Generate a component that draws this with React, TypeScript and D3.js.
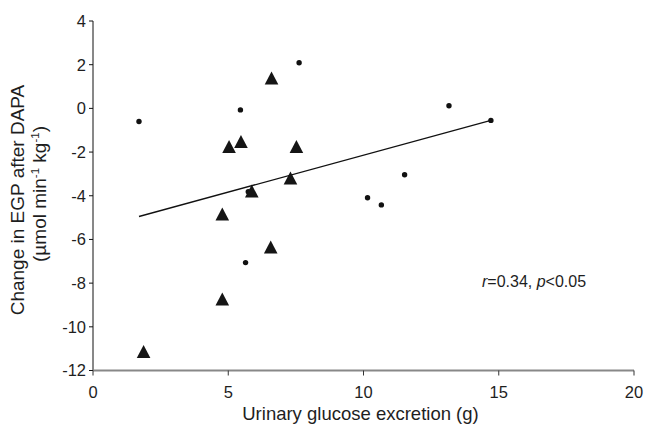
import React from "react";
import * as d3 from "d3";

const xTicks = [0, 5, 10, 15, 20];
const yTicks = [4, 2, 0, -2, -4, -6, -8, -10, -12];

const dotX = [1.7, 5.45, 7.62, 5.74, 5.64, 10.15, 10.66, 11.52, 13.16, 14.71];
const dotY = [-0.6, -0.07, 2.09, -3.82, -7.06, -4.09, -4.42, -3.04, 0.12, -0.55];

const triX = [6.6, 5.03, 5.47, 7.52, 7.3, 5.87, 4.78, 6.57, 4.78, 1.87];
const triY = [1.38, -1.76, -1.53, -1.76, -3.2, -3.8, -4.85, -6.36, -8.74, -11.14];

const fitX = [1.7, 14.71];
const fitY = [-4.95, -0.55];

const W = 646;
const H = 430;
const FONT = "Liberation Sans, Arial, sans-serif";
const TXT = "#1e1e1e";

export default function App() {
  const x = d3.scaleLinear().domain([0, 20]).range([93, 634]);
  const y = d3.scaleLinear().domain([-12, 4]).range([370.5, 21]);
  const line = d3
    .line<number>()
    .x((d) => x(fitX[d]))
    .y((d) => y(fitY[d]));
  const tri = "M0,-6.8L6.8,6.2L-6.8,6.2Z";

  return (
    <svg
      width={W}
      height={H}
      style={{ position: "absolute", left: 0, top: 0, background: "#fff" }}
      fontFamily={FONT}
    >
      {/* y axis */}
      <line x1={x(0)} x2={x(0)} y1={y(4)} y2={y(-12)} stroke="#111" strokeWidth={1} />
      {yTicks.map((t) => (
        <g key={"y" + t}>
          <line x1={x(0) - 4} x2={x(0)} y1={y(t)} y2={y(t)} stroke="#111" />
          <text
            x={x(0) - 7}
            y={y(t)}
            dy="0.36em"
            textAnchor="end"
            fontSize={16.5}
            fill={TXT}
          >
            {t}
          </text>
        </g>
      ))}
      {/* x axis */}
      <line x1={x(0)} x2={x(20)} y1={y(-12)} y2={y(-12)} stroke="#888" strokeWidth={2} />
      {xTicks.map((t) => (
        <g key={"x" + t}>
          <line x1={x(t)} x2={x(t)} y1={y(-12)} y2={y(-12) + 5} stroke="#333" />
          <text x={x(t)} y={y(-12) + 27} textAnchor="middle" fontSize={16.5} fill={TXT}>
            {t}
          </text>
        </g>
      ))}
      <text x={(x(0) + x(20)) / 2 - 3} y={420} textAnchor="middle" fontSize={18.5} fill={TXT}>
        Urinary glucose excretion (g)
      </text>
      <g transform={`translate(24,200) rotate(-90)`}>
        <text x={0} y={0} textAnchor="middle" fontSize={19} fill={TXT}>
          Change in EGP after DAPA
        </text>
        <text x={6} y={22} textAnchor="middle" fontSize={19} fill={TXT}>
          (µmol min
          <tspan dy={-7} fontSize={11.5}>-1</tspan>
          <tspan dy={7}> kg</tspan>
          <tspan dy={-7} fontSize={11.5}>-1</tspan>
          <tspan dy={7}>)</tspan>
        </text>
      </g>
      {/* fit line */}
      <path d={line([0, 1]) || ""} fill="none" stroke="#111" strokeWidth={1.3} />
      {/* dots */}
      {dotX.map((v, i) => (
        <circle key={"d" + i} cx={x(v)} cy={y(dotY[i])} r={2.7} fill="#111" />
      ))}
      {/* triangles */}
      {triX.map((v, i) => (
        <path key={"t" + i} d={tri} transform={`translate(${x(v)},${y(triY[i])})`} fill="#151515" />
      ))}
      <text x={482} y={287} fontSize={16} fill={TXT}>
        <tspan fontStyle="italic">r</tspan>=0.34, <tspan fontStyle="italic">p</tspan>&lt;0.05
      </text>
    </svg>
  );
}
